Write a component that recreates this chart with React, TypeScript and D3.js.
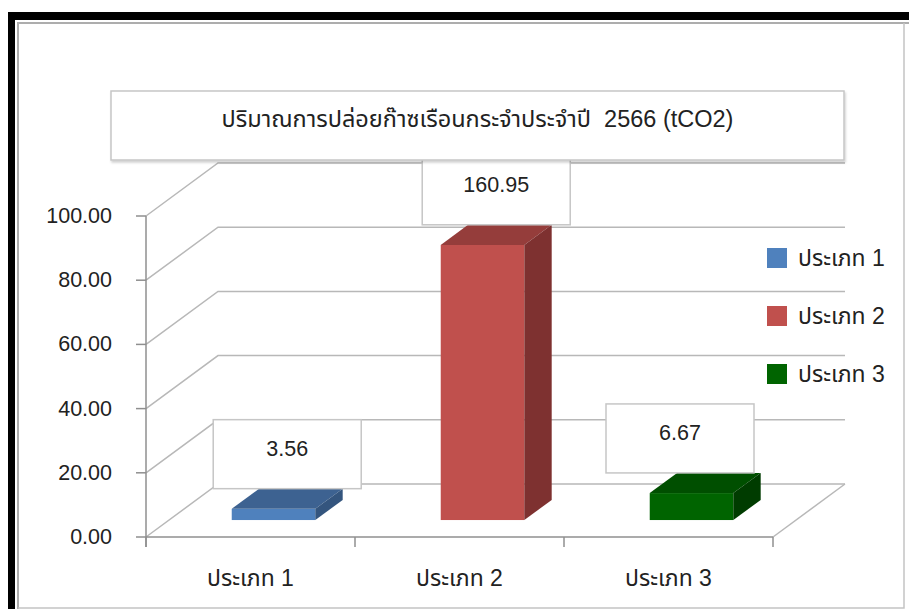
import { scaleBand, scaleLinear } from 'd3';

const categories = ['ประเภท 1', 'ประเภท 2', 'ประเภท 3'];
// values printed in the data labels
const labelValues = [3.56, 160.95, 6.67];
// bar heights as drawn in the picture, read against the value axis
const drawnValues = [3.5, 85.7, 8.4];
const yTicks = [0, 20, 40, 60, 80, 100];
const frontColors = ['#4f81bd', '#c0504d', '#006400'];
const topColors = ['#3d6291', '#953d3b', '#004f00'];
const sideColors = ['#34557e', '#7e3130', '#003c00'];

const chartTitle = 'ปริมาณการปล่อยก๊าซเรือนกระจำประจำปี  2566 (tCO2)';

const width = 909;
const height = 609;
const plot = { left: 146, right: 773, top: 216, bottom: 537 };
const depth = { dx: 72, dy: 53 };
const barFront = 0.32;
const barBack = 0.7;
const font = '"Liberation Sans", Arial, "Noto Sans Thai", Tahoma, sans-serif';

export default function App() {
  const x = scaleBand<string>()
    .domain(categories)
    .range([plot.left, plot.right])
    .paddingInner(0.6)
    .paddingOuter(0.3);

  const y = scaleLinear().domain([0, 100]).range([plot.bottom, plot.top]);

  const step = x.step();
  const bw = x.bandwidth();
  const fdx = depth.dx * barFront;
  const fdy = depth.dy * barFront;
  const bdx = depth.dx * (barBack - barFront);
  const bdy = depth.dy * (barBack - barFront);
  const backRight = plot.right + depth.dx;

  return (
    <svg width={width} height={height} style={{ position: 'absolute', left: 0, top: 0 }} fontFamily={font}>
      <defs>
        <filter id="box-shadow" x="-5%" y="-10%" width="110%" height="130%">
          <feDropShadow dx="1" dy="2" stdDeviation="1" floodColor="#000" floodOpacity="0.18" />
        </filter>
      </defs>
      <rect width={width} height={height} fill="#fff" />
      {/* outer frame */}
      <rect x={8} y={12} width={width - 8} height={8} fill="#000" />
      <rect x={8} y={12} width={7} height={height - 12} fill="#000" />
      <path d={`M18,${height} V23 H${width}`} fill="none" stroke="#adadad" strokeWidth={2} />
      <path d={`M904,23 V608 H18`} fill="none" stroke="#c4c4c4" strokeWidth={1.5} />

      {/* walls and gridlines */}
      {yTicks.map(t => (
        <g key={t}>
          <polyline
            points={`${plot.left},${y(t)} ${plot.left + depth.dx},${y(t) - depth.dy} ${backRight},${y(t) - depth.dy}`}
            fill="none"
            stroke="#b8b8b8"
            strokeWidth={1.5}
          />
          <line x1={plot.left - 10} x2={plot.left} y1={y(t)} y2={y(t)} stroke="#8f8f8f" strokeWidth={1.5} />
          <text x={112} y={y(t) + 7} textAnchor="end" fontSize={21.5} fill="#222">
            {t.toFixed(2)}
          </text>
        </g>
      ))}
      <polyline
        points={`${plot.right},${plot.bottom} ${backRight},${plot.bottom - depth.dy}`}
        fill="none"
        stroke="#b8b8b8"
        strokeWidth={1.5}
      />
      <line x1={plot.left} x2={plot.left} y1={y(100)} y2={plot.bottom + 10} stroke="#8f8f8f" strokeWidth={1.5} />
      <line x1={plot.left} x2={plot.right} y1={plot.bottom} y2={plot.bottom} stroke="#8f8f8f" strokeWidth={1.5} />
      {[...categories.map(c => x(c)! - step * 0.3), plot.right].map(px => (
        <line key={px} x1={px} x2={px} y1={plot.bottom} y2={plot.bottom + 10} stroke="#8f8f8f" strokeWidth={1.5} />
      ))}
      {categories.map(c => (
        <text key={c} x={x(c)! + bw / 2} y={plot.bottom + 49} textAnchor="middle" fontSize={23} fill="#222">
          {c}
        </text>
      ))}

      {/* 3D bars */}
      {categories.map((c, i) => {
        const x0 = x(c)! + fdx;
        const x1 = x0 + bw;
        const yb = y(0) - fdy;
        const yt = y(drawnValues[i]) - fdy;
        return (
          <g key={c}>
            <rect x={x0} y={yt} width={bw} height={yb - yt} fill={frontColors[i]} />
            <path
              d={`M${x0},${yt} L${x0 + bdx},${yt - bdy} L${x1 + bdx},${yt - bdy} L${x1},${yt} Z`}
              fill={topColors[i]}
            />
            <path
              d={`M${x1},${yt} L${x1 + bdx},${yt - bdy} L${x1 + bdx},${yb - bdy} L${x1},${yb} Z`}
              fill={sideColors[i]}
            />
          </g>
        );
      })}

      {/* data labels */}
      {categories.map((c, i) => {
        const boxW = 148;
        const boxH = 69;
        const topCenter = x(c)! + fdx + bw / 2 + bdx / 2;
        const cx = Math.min(topCenter, 754 - boxW / 2);
        const bottom = y(drawnValues[i]) - fdy - bdy;
        return (
          <g key={c}>
            <rect x={cx - boxW / 2} y={bottom - boxH} width={boxW} height={boxH} fill="#fff" stroke="#c6c6c6" strokeWidth={1.5} />
            <text x={cx} y={bottom - boxH / 2 + 2} textAnchor="middle" fontSize={21.5} fill="#222">
              {labelValues[i].toFixed(2)}
            </text>
          </g>
        );
      })}

      {/* title */}
      <rect x={111} y={91} width={733} height={69} fill="#fff" stroke="#c6c6c6" strokeWidth={1.5} filter="url(#box-shadow)" />
      <text x={477.5} y={127} textAnchor="middle" fontSize={23.5} fill="#222" style={{ whiteSpace: 'pre' }}>
        {chartTitle}
      </text>

      {/* legend */}
      {categories.map((c, i) => (
        <g key={c} transform={`translate(767,${248 + i * 58})`}>
          <rect width={20} height={20} fill={frontColors[i]} />
          <text x={31} y={18} fontSize={23} fill="#222">
            {c}
          </text>
        </g>
      ))}
    </svg>
  );
}
